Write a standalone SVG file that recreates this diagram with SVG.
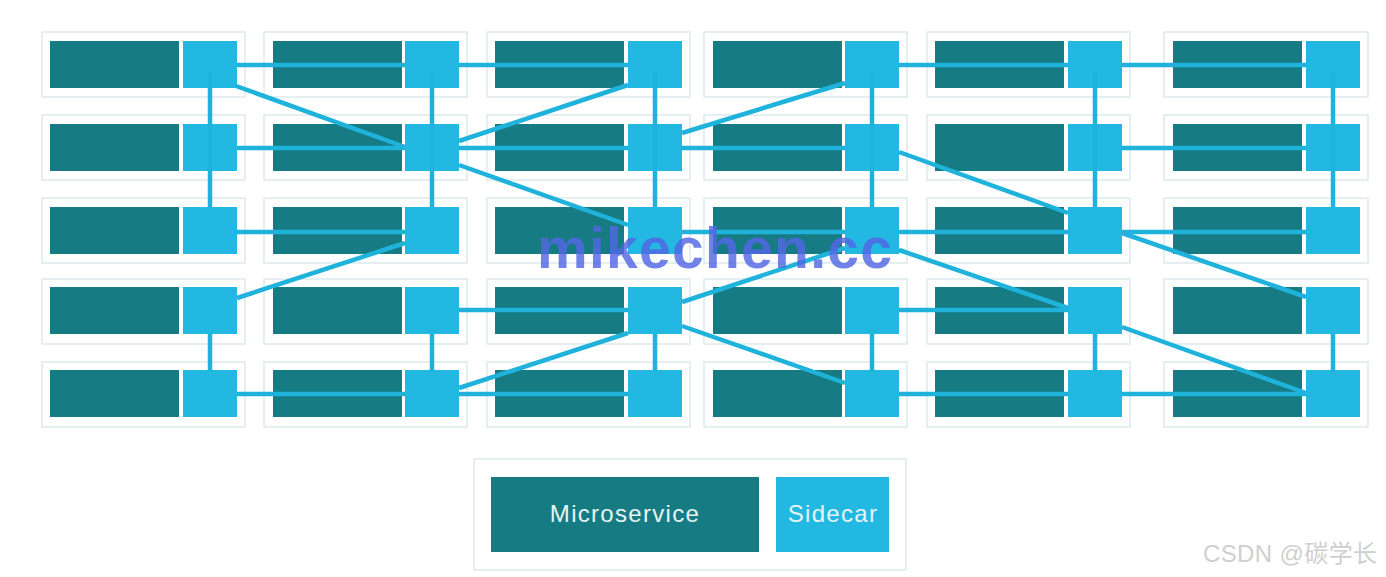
<svg xmlns="http://www.w3.org/2000/svg" width="1386" height="577" viewBox="0 0 1386 577">
<defs>
<style>
.box{fill:#ffffff;stroke:#dde9ed;stroke-width:1.5}
.ms{fill:#167b83}
.sc{fill:#22b8e2}
.ln{stroke:#1fb3dc;stroke-width:4.5;fill:none;stroke-linecap:butt}
.lbl{font-family:"Liberation Sans",Arial,sans-serif;font-size:24px;fill:#e6f4f5;letter-spacing:1.3px;text-anchor:middle}
</style>
</defs>
<rect width="1386" height="577" fill="#ffffff"/>
<g id="nodes">
<g id="n-0-0"><rect class="box" x="42" y="32" width="203" height="65"/><rect class="ms" x="50" y="41" width="129" height="47"/><rect class="sc" x="183" y="41" width="54" height="47"/></g>
<g id="n-0-1"><rect class="box" x="264" y="32" width="203" height="65"/><rect class="ms" x="273" y="41" width="129" height="47"/><rect class="sc" x="405" y="41" width="54" height="47"/></g>
<g id="n-0-2"><rect class="box" x="487" y="32" width="203" height="65"/><rect class="ms" x="495" y="41" width="129" height="47"/><rect class="sc" x="628" y="41" width="54" height="47"/></g>
<g id="n-0-3"><rect class="box" x="704" y="32" width="203" height="65"/><rect class="ms" x="713" y="41" width="129" height="47"/><rect class="sc" x="845" y="41" width="54" height="47"/></g>
<g id="n-0-4"><rect class="box" x="927" y="32" width="203" height="65"/><rect class="ms" x="935" y="41" width="129" height="47"/><rect class="sc" x="1068" y="41" width="54" height="47"/></g>
<g id="n-0-5"><rect class="box" x="1164" y="32" width="204" height="65"/><rect class="ms" x="1173" y="41" width="129" height="47"/><rect class="sc" x="1306" y="41" width="54" height="47"/></g>

<g id="n-1-0"><rect class="box" x="42" y="115" width="203" height="65"/><rect class="ms" x="50" y="124" width="129" height="47"/><rect class="sc" x="183" y="124" width="54" height="47"/></g>
<g id="n-1-1"><rect class="box" x="264" y="115" width="203" height="65"/><rect class="ms" x="273" y="124" width="129" height="47"/><rect class="sc" x="405" y="124" width="54" height="47"/></g>
<g id="n-1-2"><rect class="box" x="487" y="115" width="203" height="65"/><rect class="ms" x="495" y="124" width="129" height="47"/><rect class="sc" x="628" y="124" width="54" height="47"/></g>
<g id="n-1-3"><rect class="box" x="704" y="115" width="203" height="65"/><rect class="ms" x="713" y="124" width="129" height="47"/><rect class="sc" x="845" y="124" width="54" height="47"/></g>
<g id="n-1-4"><rect class="box" x="927" y="115" width="203" height="65"/><rect class="ms" x="935" y="124" width="129" height="47"/><rect class="sc" x="1068" y="124" width="54" height="47"/></g>
<g id="n-1-5"><rect class="box" x="1164" y="115" width="204" height="65"/><rect class="ms" x="1173" y="124" width="129" height="47"/><rect class="sc" x="1306" y="124" width="54" height="47"/></g>

<g id="n-2-0"><rect class="box" x="42" y="198" width="203" height="65"/><rect class="ms" x="50" y="207" width="129" height="47"/><rect class="sc" x="183" y="207" width="54" height="47"/></g>
<g id="n-2-1"><rect class="box" x="264" y="198" width="203" height="65"/><rect class="ms" x="273" y="207" width="129" height="47"/><rect class="sc" x="405" y="207" width="54" height="47"/></g>
<g id="n-2-2"><rect class="box" x="487" y="198" width="203" height="65"/><rect class="ms" x="495" y="207" width="129" height="47"/><rect class="sc" x="628" y="207" width="54" height="47"/></g>
<g id="n-2-3"><rect class="box" x="704" y="198" width="203" height="65"/><rect class="ms" x="713" y="207" width="129" height="47"/><rect class="sc" x="845" y="207" width="54" height="47"/></g>
<g id="n-2-4"><rect class="box" x="927" y="198" width="203" height="65"/><rect class="ms" x="935" y="207" width="129" height="47"/><rect class="sc" x="1068" y="207" width="54" height="47"/></g>
<g id="n-2-5"><rect class="box" x="1164" y="198" width="204" height="65"/><rect class="ms" x="1173" y="207" width="129" height="47"/><rect class="sc" x="1306" y="207" width="54" height="47"/></g>

<g id="n-3-0"><rect class="box" x="42" y="279" width="203" height="65"/><rect class="ms" x="50" y="287" width="129" height="47"/><rect class="sc" x="183" y="287" width="54" height="47"/></g>
<g id="n-3-1"><rect class="box" x="264" y="279" width="203" height="65"/><rect class="ms" x="273" y="287" width="129" height="47"/><rect class="sc" x="405" y="287" width="54" height="47"/></g>
<g id="n-3-2"><rect class="box" x="487" y="279" width="203" height="65"/><rect class="ms" x="495" y="287" width="129" height="47"/><rect class="sc" x="628" y="287" width="54" height="47"/></g>
<g id="n-3-3"><rect class="box" x="704" y="279" width="203" height="65"/><rect class="ms" x="713" y="287" width="129" height="47"/><rect class="sc" x="845" y="287" width="54" height="47"/></g>
<g id="n-3-4"><rect class="box" x="927" y="279" width="203" height="65"/><rect class="ms" x="935" y="287" width="129" height="47"/><rect class="sc" x="1068" y="287" width="54" height="47"/></g>
<g id="n-3-5"><rect class="box" x="1164" y="279" width="204" height="65"/><rect class="ms" x="1173" y="287" width="129" height="47"/><rect class="sc" x="1306" y="287" width="54" height="47"/></g>

<g id="n-4-0"><rect class="box" x="42" y="362" width="203" height="65"/><rect class="ms" x="50" y="370" width="129" height="47"/><rect class="sc" x="183" y="370" width="54" height="47"/></g>
<g id="n-4-1"><rect class="box" x="264" y="362" width="203" height="65"/><rect class="ms" x="273" y="370" width="129" height="47"/><rect class="sc" x="405" y="370" width="54" height="47"/></g>
<g id="n-4-2"><rect class="box" x="487" y="362" width="203" height="65"/><rect class="ms" x="495" y="370" width="129" height="47"/><rect class="sc" x="628" y="370" width="54" height="47"/></g>
<g id="n-4-3"><rect class="box" x="704" y="362" width="203" height="65"/><rect class="ms" x="713" y="370" width="129" height="47"/><rect class="sc" x="845" y="370" width="54" height="47"/></g>
<g id="n-4-4"><rect class="box" x="927" y="362" width="203" height="65"/><rect class="ms" x="935" y="370" width="129" height="47"/><rect class="sc" x="1068" y="370" width="54" height="47"/></g>
<g id="n-4-5"><rect class="box" x="1164" y="362" width="204" height="65"/><rect class="ms" x="1173" y="370" width="129" height="47"/><rect class="sc" x="1306" y="370" width="54" height="47"/></g>
</g>
<g id="connectors">
<path class="ln" d="M237 65H405M459 65H628M899 65H1068M1122 65H1306"/>
<path class="ln" d="M237 148H405M459 148H628M682 148H845M1122 148H1306"/>
<path class="ln" d="M237 232H405M682 232H845M899 232H1068M1122 232H1306"/>
<path class="ln" d="M459 310H628M899 310H1068"/>
<path class="ln" d="M237 394H405M459 394H628M899 394H1068M1122 394H1306"/>
<path class="ln" d="M210 72V207M210 334V372M432 72V207M432 334V372M655 72V207M655 334V372M872 72V207M872 334V372M1095 72V207M1095 334V372M1333 72V207M1333 334V372" stroke="#20b1d9"/>
<path class="ln" d="M236 86L405 147"/>
<path class="ln" d="M459 141L628 85"/>
<path class="ln" d="M459 165L628 225"/>
<path class="ln" d="M405 243L237 298"/>
<path class="ln" d="M682 133L845 83"/>
<path class="ln" d="M899 152L1068 213"/>
<path class="ln" d="M899 250L1068 308"/>
<path class="ln" d="M682 302L845 248"/>
<path class="ln" d="M682 326L845 383"/>
<path class="ln" d="M459 388L628 333"/>
<path class="ln" d="M1122 233L1306 297"/>
<path class="ln" d="M1122 327L1306 393"/>
</g>
<g id="legend">
<rect class="box" x="474" y="459" width="432" height="111"/>
<g id="legend-microservice"><rect class="ms" x="491" y="477" width="268" height="75"/><text class="lbl" x="625" y="522">Microservice</text></g>
<g id="legend-sidecar"><rect class="sc" x="776" y="477" width="113" height="75"/><text class="lbl" x="833" y="522">Sidecar</text></g>
</g>
<text x="537" y="268" font-family="'Liberation Sans',Arial,sans-serif" font-weight="bold" font-size="57" fill="#5266e4" fill-opacity="0.82" textLength="355" lengthAdjust="spacing">mikechen.cc</text>
<text x="1203" y="562" font-family="'Liberation Sans','Noto Sans CJK SC',sans-serif" font-size="24" fill="#cfcfcf" textLength="174" lengthAdjust="spacing">CSDN @碳学长</text>
</svg>
